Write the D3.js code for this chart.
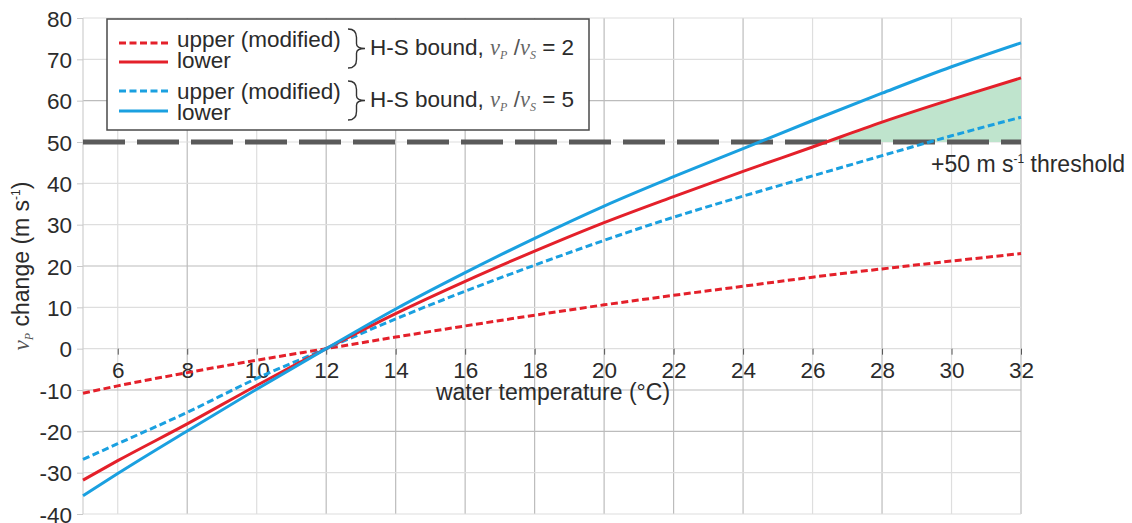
<!DOCTYPE html>
<html><head><meta charset="utf-8">
<script src="https://cdn.jsdelivr.net/npm/d3@7"></script>
<style>
html,body{margin:0;padding:0;background:#fff;}
svg text{font-family:"Liberation Sans",Arial,sans-serif;fill:#2b2b2b;}
</style></head>
<body><svg id="c" width="1132" height="523"></svg>
<script>
// ---- data ----
const temps = [5, 6, 8, 10, 12, 14, 16, 18, 20, 22, 24, 26, 28, 30, 32];
const red_upper = [-10.8, -9.0, -5.8, -2.8, 0, 2.8, 5.5, 8.1, 10.6, 12.9, 15.1, 17.3, 19.3, 21.2, 23.0];
const red_lower = [-31.8, -27.1, -18.2, -8.9, 0, 8.5, 16.3, 23.6, 30.5, 36.8, 42.9, 48.8, 54.8, 60.3, 65.5];
const blue_upper = [-26.8, -23.0, -15.4, -7.2, 0, 7.2, 13.9, 20.2, 26.2, 31.8, 36.9, 41.8, 46.7, 51.5, 56.0];
const blue_lower = [-35.6, -30.2, -19.9, -9.8, 0, 9.6, 18.4, 26.7, 34.5, 41.6, 48.4, 55.2, 61.8, 68.2, 74.0];
const xTicks = [6, 8, 10, 12, 14, 16, 18, 20, 22, 24, 26, 28, 30, 32];
const yTicks = [-40, -30, -20, -10, 0, 10, 20, 30, 40, 50, 60, 70, 80];
const threshold = 50;

const RED = "#e4202a", BLUE = "#1aa0e0";
const FS = 23;
const svg = d3.select("#c");
const x = d3.scaleLinear().domain([5, 32]).range([83, 1021]);
const y = d3.scaleLinear().domain([-40, 80]).range([514, 18]);

// grid
const g = svg.append("g");
g.selectAll("line.v").data(xTicks).join("line")
  .attr("x1", d => x(d)).attr("x2", d => x(d)).attr("y1", y(80)).attr("y2", y(-40))
  .attr("stroke", d => (d % 4 === 0 || d === 14 || d === 18 || d === 22) ? "#bcbcbc" : "#dedede").attr("stroke-width", 1.2);
g.selectAll("line.h").data(yTicks).join("line")
  .attr("x1", x(5)).attr("x2", x(32)).attr("y1", d => y(d)).attr("y2", d => y(d))
  .attr("stroke", d => (d === 60 || d === 20 || d === -20 || d === -10) ? "#bcbcbc" : "#dedede").attr("stroke-width", 1.2);
g.append("line").attr("x1", x(5)).attr("x2", x(5)).attr("y1", y(80)).attr("y2", y(-40)).attr("stroke", "#cfcfcf").attr("stroke-width", 1.2);

// y axis ticks & labels
const yAxis = d3.axisLeft(y).tickValues(yTicks).tickSize(6).tickPadding(5).tickFormat(d => String(d));
const ya = svg.append("g").attr("transform", `translate(${x(5)},0)`).call(yAxis);
ya.select(".domain").remove();
ya.selectAll("line").attr("stroke", "#c8c8c8");
ya.selectAll("text").attr("font-size", 22.5).attr("fill", "#2b2b2b").attr("font-family", "Liberation Sans, Arial, sans-serif").attr("dy", "0.36em");

// x axis on y=0
const xAxis = d3.axisBottom(x).tickValues(xTicks).tickSize(6).tickPadding(7).tickFormat(d => String(d));
const xa = svg.append("g").attr("transform", `translate(0,${y(0)})`).call(xAxis);
xa.select(".domain").remove();
xa.selectAll("line").attr("stroke", "#555").attr("stroke-width", 1);
xa.selectAll("text").attr("font-size", 22.5).attr("fill", "#2b2b2b").attr("font-family", "Liberation Sans, Arial, sans-serif");

svg.append("text").attr("x", 553).attr("y", 400).attr("text-anchor", "middle").attr("font-size", FS)
  .text("water temperature (°C)");

// y label
const yl = svg.append("text").attr("transform", `translate(29,266) rotate(-90)`).attr("text-anchor", "middle").attr("font-size", FS);
yl.append("tspan").attr("font-family", "Liberation Serif, serif").attr("font-style", "italic").attr("fill", "#555").text("v");
yl.append("tspan").attr("font-family", "Liberation Serif, serif").attr("font-style", "italic").attr("fill", "#555").attr("font-size", 12).attr("dy", 4).text("P");
yl.append("tspan").attr("dy", -4).text(" change (m s");
yl.append("tspan").attr("font-size", 12).attr("dy", -9).text("-1");
yl.append("tspan").attr("dy", 9).text(")");

// green fill where red lower > threshold
const pts = temps.map((t, i) => ({t, v: red_lower[i]}));
svg.append("clipPath").attr("id", "above").append("rect")
  .attr("x", x(5)).attr("y", y(80)).attr("width", x(32) - x(5)).attr("height", y(threshold) - y(80));
svg.append("path").datum(pts).attr("clip-path", "url(#above)")
  .attr("d", d3.area().curve(d3.curveMonotoneX).x(d => x(d.t)).y0(y(threshold)).y1(d => y(d.v)))
  .attr("fill", "#bfe4cd");

// threshold line
svg.append("line").attr("x1", x(5)).attr("x2", x(32)).attr("y1", y(threshold)).attr("y2", y(threshold))
  .attr("stroke", "#5a5a5a").attr("stroke-width", 5).attr("stroke-dasharray", "42,12");
const tl = svg.append("text").attr("x", 931).attr("y", 172).attr("font-size", FS);
tl.append("tspan").text("+50 m s");
tl.append("tspan").attr("font-size", 12).attr("dy", -9).text("-1");
tl.append("tspan").attr("dy", 9).text(" threshold");

// curves
const line = d3.line().curve(d3.curveMonotoneX).x((d, i) => x(temps[i])).y(d => y(d));
const series = [
  {vals: red_upper, color: RED, dash: "7,3.5"},
  {vals: blue_upper, color: BLUE, dash: "7,3.5"},
  {vals: red_lower, color: RED, dash: null},
  {vals: blue_lower, color: BLUE, dash: null}
];
series.forEach(s => {
  svg.append("path").datum(s.vals).attr("d", line).attr("fill", "none")
    .attr("stroke", s.color).attr("stroke-width", 3).attr("stroke-dasharray", s.dash);
});

// legend
const lg = svg.append("g");
lg.append("rect").attr("x", 107).attr("y", 19).attr("width", 482).attr("height", 111)
  .attr("fill", "#fff").attr("stroke", "#4a4a4a").attr("stroke-width", 1.5);
const legendRows = [
  {color: RED, dash: "7,3.5", ly: 43, label: "upper (modified)", ty: 47},
  {color: RED, dash: null, ly: 62, label: "lower", ty: 68},
  {color: BLUE, dash: "7,3.5", ly: 91, label: "upper (modified)", ty: 99},
  {color: BLUE, dash: null, ly: 111, label: "lower", ty: 120}
];
legendRows.forEach(r => {
  lg.append("line").attr("x1", 119).attr("x2", 168).attr("y1", r.ly).attr("y2", r.ly)
    .attr("stroke", r.color).attr("stroke-width", 3).attr("stroke-dasharray", r.dash);
  lg.append("text").attr("x", 177).attr("y", r.ty).attr("font-size", 22.5).text(r.label);
});
function brace(x0, y1, y2, w) {
  const h = y2 - y1, m = (y1 + y2) / 2, xm = x0 + w * 0.5;
  return `M${x0},${y1} Q${xm},${y1} ${xm},${y1 + h * 0.22} L${xm},${m - h * 0.12} Q${xm},${m} ${x0 + w},${m}` +
         ` Q${xm},${m} ${xm},${m + h * 0.12} L${xm},${y2 - h * 0.22} Q${xm},${y2} ${x0},${y2}`;
}
const groups = [{y1: 29, y2: 68, ratio: "2", ty: 55}, {y1: 81, y2: 120, ratio: "5", ty: 107}];
groups.forEach(gr => {
  lg.append("path").attr("d", brace(348, gr.y1, gr.y2, 17)).attr("fill", "none").attr("stroke", "#333").attr("stroke-width", 1.4);
  const t = lg.append("text").attr("x", 370).attr("y", gr.ty).attr("font-size", 22.5);
  t.append("tspan").text("H-S bound, ");
  t.append("tspan").attr("font-family", "Liberation Serif, serif").attr("font-style", "italic").attr("fill", "#666").text("v");
  t.append("tspan").attr("font-family", "Liberation Serif, serif").attr("font-style", "italic").attr("fill", "#666").attr("font-size", 12).attr("dy", 4).text("P");
  t.append("tspan").attr("dy", -4).attr("fill", "#555").text(" /");
  t.append("tspan").attr("font-family", "Liberation Serif, serif").attr("font-style", "italic").attr("fill", "#666").text("v");
  t.append("tspan").attr("font-family", "Liberation Serif, serif").attr("font-style", "italic").attr("fill", "#666").attr("font-size", 12).attr("dy", 4).text("S");
  t.append("tspan").attr("dy", -4).text(" = " + gr.ratio);
});
</script></body></html>
